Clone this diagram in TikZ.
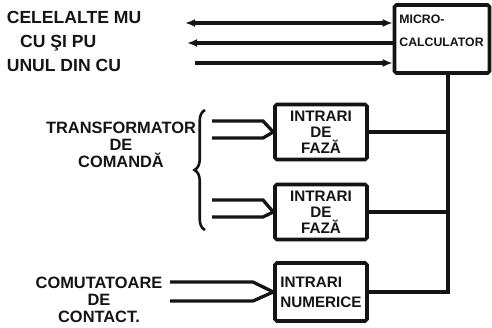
\documentclass[tikz,border=0pt]{standalone}
\usepackage{fontspec}
\setmainfont{Liberation Sans}
\usetikzlibrary{arrows.meta, calc, decorations.pathreplacing}
\definecolor{ink}{HTML}{141414}
\tikzset{
  every picture/.style={font=\bfseries, line width=2.8pt, color=ink},
  box/.style={draw=ink, line width=3pt, rounded corners=1.5pt, minimum width=2.76cm, minimum height=1.65cm, align=center, inner sep=2pt, font=\bfseries\fontsize{13}{13.5}\selectfont},
  wire/.style={draw=ink, line width=2.8pt},
  tag/.style={font=\bfseries\fontsize{14}{14.5}\selectfont, align=center, inner sep=1pt},
}

\begin{document}
\begin{tikzpicture}[x=0.03cm, y=-0.03cm, >={Latex[length=3mm, width=2.4mm]}]
  \useasboundingbox (0,0) rectangle (492,327);
  % blocks
  \node[box, minimum width=2.85cm, minimum height=2.04cm] (mc) at (442,39) {};
  \node[anchor=north west, align=left, inner sep=0pt, font=\bfseries\fontsize{10.5}{20}\selectfont] (mctext) at ([shift={(5,10)}]mc.north west) {MICRO-\\CALCULATOR};
  \node[box] (f1) at (321,132) {INTRARI\\DE\\FAZĂ};
  \node[box] (f2) at (321,212) {INTRARI\\DE\\FAZĂ};
  \node[box, minimum height=1.74cm, align=left, font=\bfseries\fontsize{13}{17}\selectfont] (nr) at (321,292) {INTRARI\\NUMERICE};
  % common line up to the micro-calculator
  \coordinate (bus) at (448,0);
  \draw[wire] (nr.east) -| (bus |- mc.south);
  \foreach \b in {f1,f2} \draw[wire] (\b.east) -- (\b.east -| bus);
  % links with the other MU, CU and PU
  \coordinate (s1) at (185,23); \coordinate (s2) at (187,43); \coordinate (s3) at (195,63);
  \draw[wire, <->] (s1) -- (s1 -| mc.west);
  \draw[wire, <-] (s2) -- (s2 -| mc.west);
  \draw[wire, ->] (s3) -- (s3 -| mc.west);
  \node[tag, align=left, anchor=west, font=\bfseries\fontsize{15}{20.5}\selectfont] (mu) at (4,41) {CELELALTE MU\\\hspace{0.4cm}CU ŞI PU\\UNUL DIN CU};
  % inputs
  \node[tag] (tr) at (121,145) {TRANSFORMATOR\\DE\\COMANDĂ};
  \node[tag] (cc) at (99,300) {COMUTATOARE\\DE\\CONTACT.};
  \draw[wire, line width=2.2pt, decorate, decoration={brace, amplitude=9pt}] (205,230) -- (205,110);
  \foreach \b/\ya/\yb/\xs/\xk in {f1/121/138/212/263, f2/200/217/212/263, nr/282/301/170/253} {
    \coordinate (\b u) at (\xs,\ya); \coordinate (\b d) at (\xs,\yb);
    \draw[wire] (\b u) -- (\xk,\ya) -- (\b.west);
    \draw[wire] (\b d) -- (\xk,\yb) -- (\b.west);
  }
\end{tikzpicture}
\end{document}
